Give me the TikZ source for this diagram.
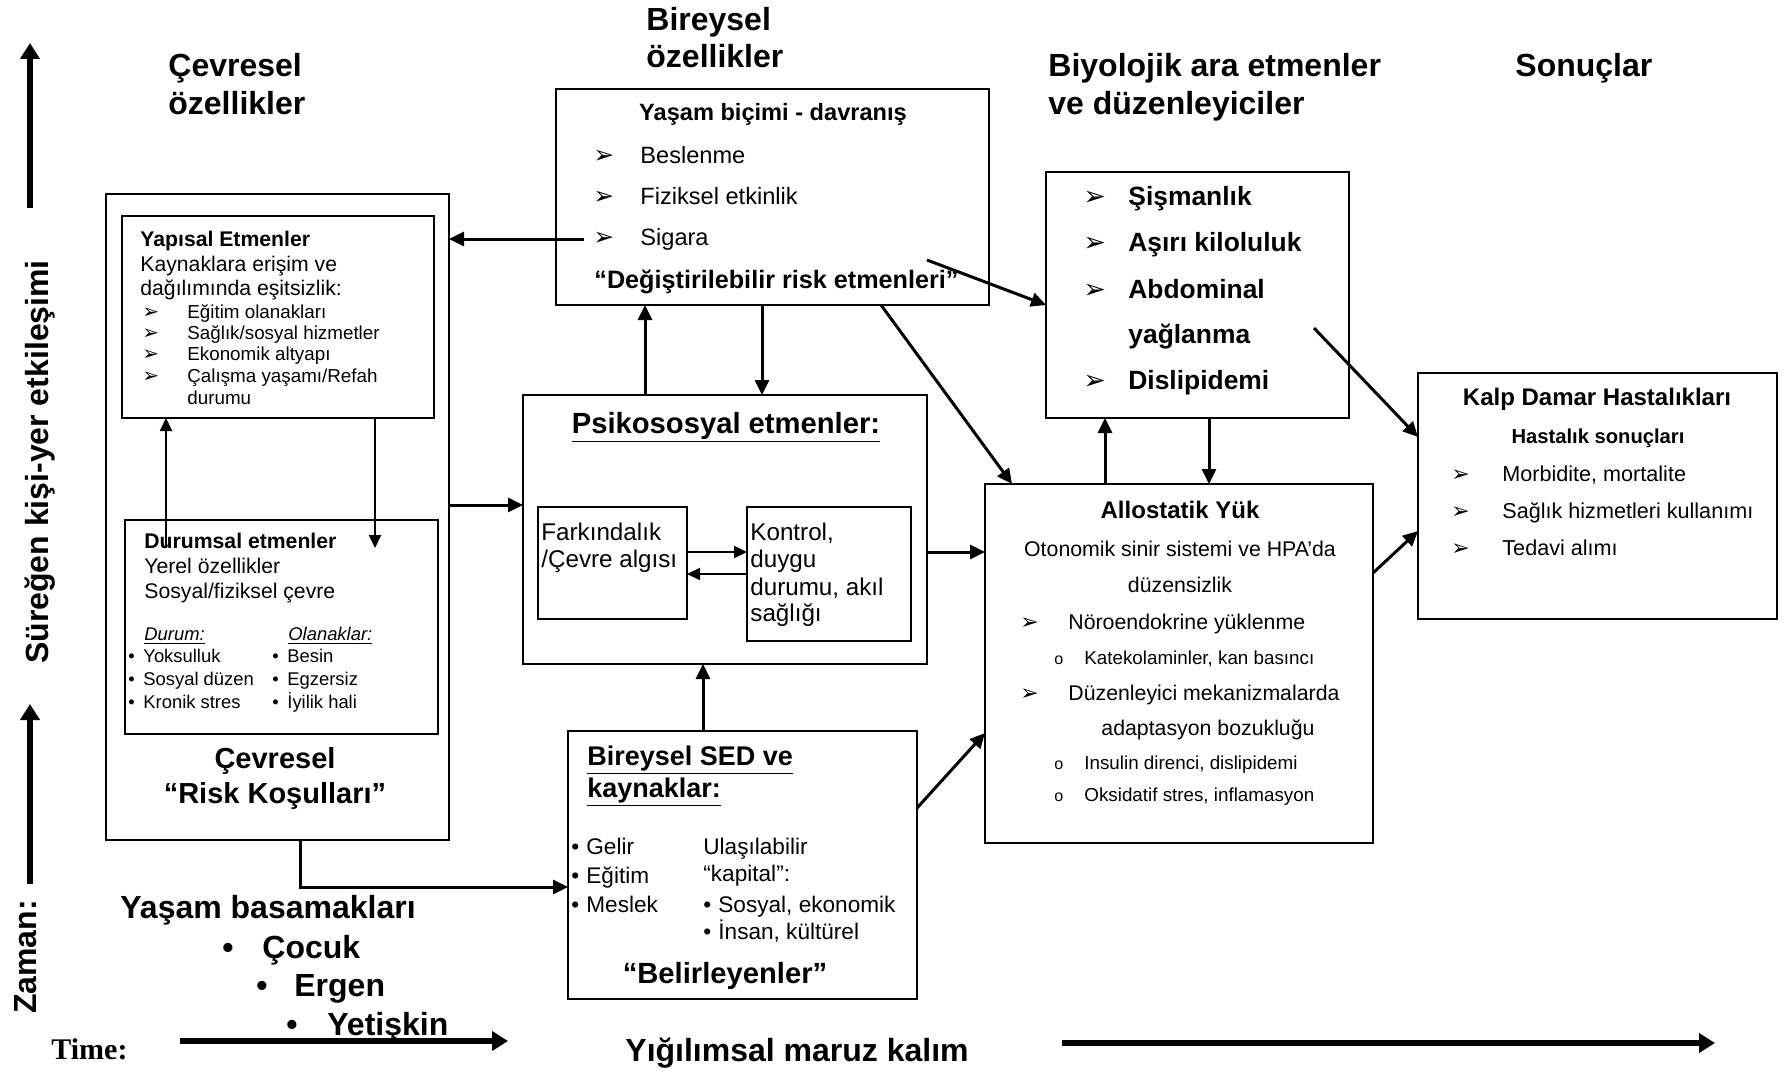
\documentclass[tikz,border=0pt]{standalone}
\usepackage{fontspec}
\setmainfont{Liberation Sans}
\newfontfamily\timesfont{Liberation Serif}
\newfontfamily\djv{DejaVu Sans}
\usetikzlibrary{arrows.meta,fit}
\newcommand\fs[1]{\fontsize{#1}{#1}\selectfont}
\newcommand\harr{{\djv\symbol{"27A2}}}
\newcommand\mkbox[5]{\node[box, fit={(#2,#3) (#4,#5)}] (#1) {};}
\tikzset{
 box/.style={draw, line width=1pt, inner sep=0pt, outer sep=0pt},
 t/.style={inner sep=0pt, anchor=base west},
 tc/.style={inner sep=0pt, anchor=base},
 hd/.style={t, font=\fs{16}\bfseries},
 arr/.style={line width=1.5pt, -{Triangle[length=7.5pt,width=7pt]}},
 arrthin/.style={line width=1pt, -{Triangle[length=6.5pt,width=6pt]}},
 bigarr/.style={line width=3pt, -{Triangle[length=8pt,width=9.5pt]}},
}
\begin{document}
\begin{tikzpicture}[x=0.5pt,y=-0.5pt]
\useasboundingbox (0,0) rectangle (1786,1070);
\fill[white] (0,0) rectangle (1786,1070);

% ---------- headings ----------
\node[hd] (h1a) at (168,77) {Çevresel};
\node[hd] (h1b) at (168,114) {özellikler};
\node[hd] (h2a) at (646,31) {Bireysel};
\node[hd] (h2b) at (646,68) {özellikler};
\node[hd] (h3a) at (1048,77) {Biyolojik ara etmenler};
\node[hd] (h3b) at (1048,114) {ve düzenleyiciler};
\node[hd] (h4) at (1515,77) {Sonuçlar};

% ---------- left axis ----------
\coordinate (ua1s) at (30,208); \coordinate (ua1e) at (30,43);
\draw[bigarr] (ua1s) -- (ua1e);
\coordinate (ua2s) at (30,884); \coordinate (ua2e) at (30,704);
\draw[bigarr] (ua2s) -- (ua2e);
\node[font=\fs{16}\bfseries, rotate=90, inner sep=0pt] (lbl1) at (40,462) {Süreğen kişi-yer etkileşimi};
\node[font=\fs{16}\bfseries, rotate=90, inner sep=0pt] (lbl2) at (26,957) {Zaman:};

% ---------- bottom ----------
\node[t, font=\fs{15}\timesfont\bfseries] (time) at (51,1059) {Time:};
\coordinate (ba1s) at (180,1041); \coordinate (ba1e) at (508,1041);
\draw[bigarr] (ba1s) -- (ba1e);
\node[t, font=\fs{16}\bfseries] (yig) at (625,1061) {Yığılımsal maruz kalım};
\coordinate (ba2s) at (1062,1043); \coordinate (ba2e) at (1715,1043);
\draw[bigarr] (ba2s) -- (ba2e);

\node[hd] (yb) at (120,918) {Yaşam basamakları};
\node[tc, font=\fs{16}\bfseries] (b1) at (228,958) {•};
\node[hd] (yb1) at (262,958) {Çocuk};
\node[tc, font=\fs{16}\bfseries] (b2) at (262,996) {•};
\node[hd] (yb2) at (294,996) {Ergen};
\node[tc, font=\fs{16}\bfseries] (b3) at (292,1035) {•};
\node[hd] (yb3) at (327,1035) {Yetişkin};

% ---------- Cevresel outer ----------
\mkbox{cev}{106}{194}{449}{840}
\mkbox{yap}{122}{216}{434}{418}
\node[t, font=\fs{10.6}\bfseries] (yapt) at (140,246) {Yapısal Etmenler};
\node[t, font=\fs{10.6}] (yap1) at (140,271) {Kaynaklara erişim ve};
\node[t, font=\fs{10.6}] (yap2) at (140,295) {dağılımında eşitsizlik:};
\foreach \yy/\tx [count=\i] in {318/{Eğitim olanakları},339/{Sağlık/sosyal hizmetler},360/{Ekonomik altyapı},382/{Çalışma yaşamı/Refah}}{
  \node[t, font=\fs{10}] (yapb\i) at (142,\yy) {\harr};
  \node[t, font=\fs{9.4}] (yapi\i) at (187,\yy) {\tx};
}
\node[t, font=\fs{9.4}] (yapi5) at (187,404) {durumu};

\mkbox{dur}{125}{520}{438}{734}
\node[t, font=\fs{10.6}\bfseries] (durt) at (144,548) {Durumsal etmenler};
\node[t, font=\fs{10.6}] (dur1) at (144,573) {Yerel özellikler};
\node[t, font=\fs{10.6}] (dur2) at (144,598) {Sosyal/fiziksel çevre};
\node[t, font=\fs{9.2}\itshape] (durA) at (144,640) {\underline{Durum:}};
\node[t, font=\fs{9.2}\itshape] (durB) at (288,640) {\underline{Olanaklar:}};
\foreach \yy/\ta/\tb [count=\i] in {662/Yoksulluk/Besin,685/Sosyal düzen/Egzersiz,708/Kronik stres/İyilik hali}{
  \node[t, font=\fs{9.2}] (dda\i) at (128,\yy) {•};
  \node[t, font=\fs{9.2}] (dta\i) at (143,\yy) {\ta};
  \node[t, font=\fs{9.2}] (ddb\i) at (272,\yy) {•};
  \node[t, font=\fs{9.2}] (dtb\i) at (287,\yy) {\tb};
}
\node[tc, font=\fs{14.5}\bfseries] (cevt1) at (275,768) {Çevresel};
\node[tc, font=\fs{14.5}\bfseries] (cevt2) at (275,803) {“Risk Koşulları”};

\coordinate (dupS) at (166,548);
\draw[arrthin] (dupS) -- (dupS |- yap.south);
\coordinate (ddnE) at (375,548);
\draw[arrthin] (ddnE |- yap.south) -- (ddnE);

% ---------- Yasam box ----------
\mkbox{yas}{556}{89}{989}{305}
\node[tc, font=\fs{11.8}\bfseries] (yast) at (773,120) {Yaşam biçimi - davranış};
\foreach \yy/\tx [count=\i] in {163/Beslenme,204/Fiziksel etkinlik,245/Sigara}{
  \node[t, font=\fs{12.5}] (yasb\i) at (593,\yy) {\harr};
  \node[t, font=\fs{11.8}] (yasi\i) at (640,\yy) {\tx};
}
\node[t, font=\fs{12.6}\bfseries] (yasd) at (594,288) {“Değiştirilebilir risk etmenleri”};

\coordinate (sigS) at (584,239);
\draw[arr] (sigS) -- (sigS -| cev.east);

% ---------- Biyolojik box ----------
\mkbox{biy}{1046}{172}{1349}{418}
\foreach \yy/\tx [count=\i] in {205/Şişmanlık,251/Aşırı kiloluluk,298/Abdominal,389/Dislipidemi}{
  \node[t, font=\fs{13.5}] (biyb\i) at (1083,\yy) {\harr};
  \node[t, font=\fs{13.2}\bfseries] (biyi\i) at (1128,\yy) {\tx};
}
\node[t, font=\fs{13.2}\bfseries] (biyi5) at (1128,343) {yağlanma};

\coordinate (yb1S) at (927,260);
\draw[arr] (yb1S) -- (biy.west |- 0,305);

% ---------- Psikososyal ----------
\mkbox{psi}{523}{395}{927}{664}
\node[tc, font=\fs{14.6}\bfseries] (psit) at (726,433) {\underline{Psikososyal etmenler:}};
\mkbox{fark}{538}{507}{687}{619}
\node[t, font=\fs{12.1}] (fark1) at (541,540) {Farkındalık};
\node[t, font=\fs{12.1}] (fark2) at (541,567) {/Çevre algısı};
\mkbox{kon}{747}{507}{911}{641}
\node[t, font=\fs{12.1}] (kon1) at (750,540) {Kontrol,};
\node[t, font=\fs{12.1}] (kon2) at (750,567) {duygu};
\node[t, font=\fs{12.1}] (kon3) at (750,595) {durumu, akıl};
\node[t, font=\fs{12.1}] (kon4) at (750,621) {sağlığı};
\coordinate (fk) at (0,552); \coordinate (kf) at (0,574);
\draw[arrthin] (fark.east |- fk) -- (kon.west |- fk);
\draw[arrthin] (kon.west |- kf) -- (fark.east |- kf);

\coordinate (xa) at (645,0); \coordinate (xb) at (762,0); \coordinate (xc) at (881,0);
\draw[arr] (psi.north -| xa) -- (yas.south -| xa);
\draw[arr] (yas.south -| xb) -- (psi.north -| xb);

\coordinate (cpy) at (0,505);
\draw[arr] (cev.east |- cpy) -- (psi.west |- cpy);

% ---------- Allostatik ----------
\mkbox{all}{985}{484}{1373}{843}
\node[tc, font=\fs{12}\bfseries] (allt) at (1180,518) {Allostatik Yük};
\node[tc, font=\fs{10.65}] (all1) at (1180,556) {Otonomik sinir sistemi ve HPA’da};
\node[tc, font=\fs{10.65}] (all2) at (1180,592) {düzensizlik};
\node[t, font=\fs{11}] (allb1) at (1020,629) {\harr};
\node[t, font=\fs{10.65}] (all3) at (1068,629) {Nöroendokrine yüklenme};
\node[t, font=\fs{8}] (allo1) at (1054,664) {o};
\node[t, font=\fs{9.4}] (all4) at (1084,664) {Katekolaminler, kan basıncı};
\node[t, font=\fs{11}] (allb2) at (1020,700) {\harr};
\node[t, font=\fs{10.65}] (all5) at (1068,700) {Düzenleyici mekanizmalarda};
\node[t, font=\fs{10.65}] (all6) at (1101,735) {adaptasyon bozukluğu};
\node[t, font=\fs{8}] (allo2) at (1054,769) {o};
\node[t, font=\fs{9.4}] (all7) at (1084,769) {Insulin direnci, dislipidemi};
\node[t, font=\fs{8}] (allo3) at (1054,801) {o};
\node[t, font=\fs{9.4}] (all8) at (1084,801) {Oksidatif stres, inflamasyon};

\coordinate (cpa) at (0,552);
\draw[arr] (psi.east |- cpa) -- (all.west |- cpa);
\draw[arr] (yas.south -| xc) -- (1012,484);
\coordinate (xd) at (1105,0); \coordinate (xe) at (1209,0);
\draw[arr] (all.north -| xd) -- (biy.south -| xd);
\draw[arr] (biy.south -| xe) -- (all.north -| xe);

% ---------- Kalp ----------
\mkbox{kalp}{1418}{373}{1777}{619}
\node[tc, font=\fs{12}\bfseries] (kalpt) at (1597,405) {Kalp Damar Hastalıkları};
\node[tc, font=\fs{10.1}\bfseries] (kalps) at (1598,443) {Hastalık sonuçları};
\foreach \yy/\tx [count=\i] in {481/{Morbidite, mortalite},518/{Sağlık hizmetleri kullanımı},555/{Tedavi alımı}}{
  \node[t, font=\fs{11}] (kalpb\i) at (1451,\yy) {\harr};
  \node[t, font=\fs{10.8}] (kalpi\i) at (1502,\yy) {\tx};
}
\coordinate (bkS) at (1314,328);
\draw[arr] (bkS) -- (kalp.west |- 0,437);
\draw[arr] (all.east |- 0,573) -- (kalp.west |- 0,531);

% ---------- SED ----------
\mkbox{sed}{568}{731}{917}{999}
\node[t, font=\fs{13.5}\bfseries] (sedt1) at (587,765) {\underline{Bireysel SED ve}};
\node[t, font=\fs{13.5}\bfseries] (sedt2) at (587,797) {\underline{kaynaklar:}};
\foreach \yy/\tx [count=\i] in {854/Gelir,883/Eğitim,912/Meslek}{
  \node[t, font=\fs{11.3}] (sedd\i) at (571,\yy) {•};
  \node[t, font=\fs{11.3}] (sedi\i) at (586,\yy) {\tx};
}
\node[t, font=\fs{11.3}] (sedr1) at (703,854) {Ulaşılabilir};
\node[t, font=\fs{11.3}] (sedr2) at (703,881) {“kapital”:};
\node[t, font=\fs{11.3}] (sedr3d) at (703,912) {•};
\node[t, font=\fs{11.3}] (sedr3) at (718,912) {Sosyal, ekonomik};
\node[t, font=\fs{11.3}] (sedr4d) at (703,939) {•};
\node[t, font=\fs{11.3}] (sedr4) at (718,939) {İnsan, kültürel};
\node[tc, font=\fs{14.6}\bfseries] (sedb) at (725,983) {“Belirleyenler”};

\coordinate (xf) at (703,0);
\draw[arr] (sed.north -| xf) -- (psi.south -| xf);
\coordinate (xg) at (300,0); \coordinate (yg) at (0,887);
\draw[arr] (cev.south -| xg) |- (sed.west |- yg);
\draw[arr] (sed.east |- 0,808) -- (all.west |- 0,733);
\end{tikzpicture}
\end{document}
